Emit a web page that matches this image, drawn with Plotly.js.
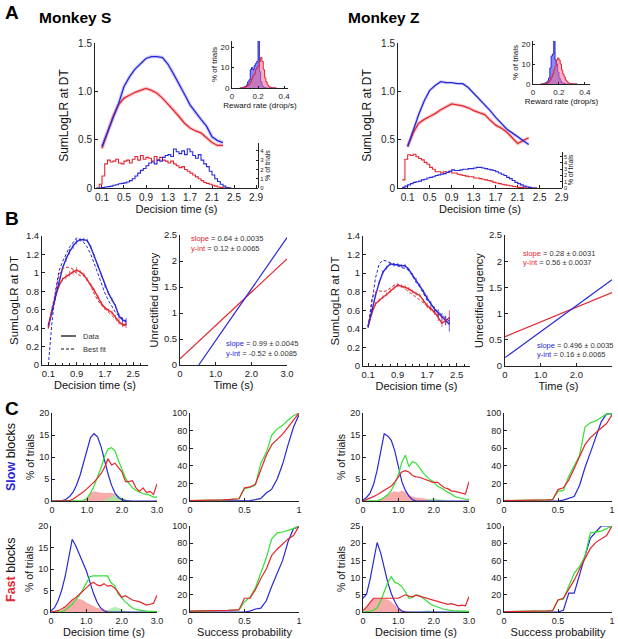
<!DOCTYPE html>
<html><head><meta charset="utf-8">
<script src="https://cdn.plot.ly/plotly-3.0.1.min.js"></script>
<style>body{margin:0;background:#fff}#chart{width:618px;height:639px}</style>
</head><body><div id="chart"></div>
<script>
// ---------------- DATA ----------------
// Panel A / B: SumLogLR at decision time (DT in s)
const dtGrid = [0.1,0.2,0.3,0.4,0.5,0.6,0.7,0.8,0.9,1.0,1.1,1.2,1.3,1.4,1.5,1.6,1.7,1.8,1.9,2.0,2.1,2.2,2.3];
const sBlueLLR = [0.43,0.58,0.72,0.87,1.05,1.15,1.23,1.29,1.34,1.36,1.36,1.35,1.28,1.18,1.08,0.97,0.86,0.78,0.71,0.64,0.53,0.49,0.47];
const sRedLLR  = [0.41,0.58,0.74,0.86,0.93,0.96,0.99,1.01,1.03,1.01,0.98,0.93,0.87,0.81,0.74,0.67,0.62,0.59,0.57,0.52,0.47,0.44,0.44];
const zBlueLLR = [0.43,0.60,0.76,0.90,1.01,1.06,1.10,1.09,1.09,1.08,1.08,1.04,0.98,0.93,0.87,0.80,0.73,0.67,0.61,0.57,0.53,0.49,0.45];
const zRedLLR  = [0.43,0.57,0.67,0.71,0.74,0.77,0.81,0.84,0.87,0.86,0.85,0.83,0.80,0.78,0.76,0.70,0.65,0.62,0.58,0.52,0.46,0.49,0.52];
const sLLRErr  = [0.02,0.02,0.02,0.02,0.02,0.03,0.03,0.03,0.03,0.02,0.02,0.02,0.02,0.02,0.02,0.02,0.02,0.02,0.02,0.02,0.03,0.03,0.04];
const zLLRErr  = [0.02,0.02,0.02,0.02,0.02,0.02,0.02,0.02,0.02,0.02,0.02,0.02,0.02,0.02,0.02,0.02,0.03,0.03,0.03,0.04,0.04,0.05,0.08];
// Panel B best fits
const sBlueFit = [0.00,0.45,0.80,1.02,1.12,1.20,1.28,1.33,1.38,1.36,1.33,1.28,1.20,1.10,0.99,0.88,0.78,0.70,0.63,0.57,0.53,0.50,0.48];
const sRedFit  = [0.40,0.62,0.78,0.98,1.04,1.06,1.06,1.04,0.99,0.97,0.97,0.92,0.86,0.77,0.70,0.65,0.61,0.57,0.53,0.50,0.46,0.43,0.43];
const zBlueFit = [0.42,0.70,0.95,1.10,1.14,1.13,1.11,1.10,1.08,1.06,1.05,1.03,0.97,0.90,0.85,0.78,0.71,0.67,0.62,0.58,0.55,0.51,0.48];
const zRedFit  = [0.42,0.72,0.80,0.81,0.80,0.81,0.84,0.87,0.88,0.86,0.83,0.80,0.77,0.74,0.71,0.68,0.64,0.60,0.57,0.55,0.52,0.49,0.47];

// Panel A: DT histograms (% of trials), bins of 0.05 s
const histBins = [0,0.05,0.1,0.15,0.2,0.25,0.3,0.35,0.4,0.45,0.5,0.55,0.6,0.65,0.7,0.75,0.8,0.85,0.9,0.95,1.0,1.05,1.1,1.15,1.2,1.25,1.3,1.35,1.4,1.45,1.5,1.55,1.6,1.65,1.7,1.75,1.8,1.85,1.9,1.95,2.0,2.05,2.1,2.15,2.2,2.25,2.3,2.35,2.4,2.45];
const sRedHist  = [0,0.4,1.3,2.6,3.0,2.8,2.9,3.1,2.7,2.6,2.9,3.0,2.7,3.1,3.4,3.0,3.5,3.1,3.3,3.2,2.9,3.4,3.0,3.3,3.0,2.9,2.7,2.9,2.6,2.4,2.2,2.3,2.0,1.8,1.6,1.4,1.2,1.0,0.8,0.6,0.5,0.4,0.3,0.2,0.1,0.05,0,0,0,0];
const sBlueHist = [0,0,0.05,0.1,0.15,0.2,0.3,0.35,0.45,0.5,0.55,0.65,0.8,1.0,1.3,1.6,1.9,2.1,2.4,2.7,2.8,2.6,3.0,2.9,3.3,3.5,3.6,3.4,4.2,3.9,3.7,4.0,3.6,4.2,3.9,3.5,3.2,3.6,3.0,2.6,2.3,1.8,1.4,1.0,0.7,0.4,0.2,0.05,0,0];
const zRedHist  = [1.3,4.6,5.3,5.2,5.4,5.0,4.7,4.5,4.1,3.8,3.3,3.0,2.6,2.6,2.4,2.6,2.5,2.6,2.4,2.4,2.2,2.1,2.0,1.9,1.8,1.8,1.6,1.6,1.5,1.4,1.3,1.2,1.1,0.9,0.8,0.7,0.6,0.5,0.45,0.35,0.25,0.2,0.1,0.1,0.05,0,0,0,0,0];
const zBlueHist = [0.1,0.3,0.5,0.7,0.9,1.0,1.1,1.3,1.4,1.6,1.7,1.8,2.0,2.1,2.2,2.3,2.5,2.7,2.9,2.8,2.8,2.9,3.0,3.0,3.1,3.1,3.2,3.3,3.3,3.2,3.1,3.0,2.9,2.8,2.6,2.4,2.2,2.0,1.7,1.5,1.2,0.9,0.7,0.5,0.3,0.2,0.1,0,0,0];

// Panel A insets: reward rate histograms (% of trials)
const rrBins = [0.06,0.07,0.08,0.09,0.10,0.11,0.12,0.13,0.14,0.15,0.16,0.17,0.18,0.19,0.20,0.21,0.22,0.23,0.24,0.25,0.26,0.27,0.28,0.29,0.30,0.31,0.32,0.33,0.34];
const sBlueRR = [0,0,0.3,0.5,0.8,1.5,3,4,9,10,9,11,12,13,23,8,3,1,0.5,0.2,0,0,0,0,0,0,0,0,0];
const sRedRR  = [0,0,0.2,0.3,0.5,0.8,1.2,2,3,4.5,6,7,9,10,11,13,15,13,9,5,3,1.5,0.8,0.4,0.2,0.1,0,0,0];
const zBlueRR = [0,0,0.2,0.5,0.8,1.5,3,8,14,15,23,12,10,6,3,1.5,0.8,0.4,0.2,0,0,0,0,0,0,0,0,0,0];
const zRedRR  = [0,0,0,0.1,0.2,0.5,1,2,3.5,5,7,9,12,13,12,10,7,5,3.5,2,1.2,0.6,0.3,0.1,0,0,0,0,0];

// Panel B: unrectified urgency lines (time s, urgency)
const sRedUrgT = [0,3.0],     sRedUrg = [0.12,2.04];
const sBlueUrgT = [0.525,3.0], sBlueUrg = [0,2.45];
const zRedUrgT = [0,3.0],     zRedUrg = [0.56,1.40];
const zBlueUrgT = [0,3.0],    zBlueUrg = [0.16,1.648];

// Panel C: decision time distributions (% of trials)
const dtC = [0,0.1,0.2,0.3,0.4,0.5,0.6,0.7,0.8,0.9,1.0,1.1,1.2,1.3,1.4,1.5,1.6,1.7,1.8,1.9,2.0,2.1,2.2,2.3,2.4,2.5,2.6,2.7,2.8,2.9,3.0];
const slowS_blue  = [0,0,0,0.1,0.4,1.0,2.0,3.6,5.8,8.6,11.8,14.4,15.3,14.6,12.4,9.2,6.2,3.6,1.8,0.8,0.3,0.1,0,0,0,0,0,0,0,0,0];
const slowS_green = [0,0,0,0,0,0,0,0,0,0.1,0.6,1.8,3.4,5.4,7.5,10.0,11.8,12.1,11.4,9.2,7.0,5.2,4.0,3.0,2.4,2.0,1.7,1.5,1.3,0.9,0.9];
const slowS_red   = [0,0,0,0,0,0.1,0.4,0.9,1.5,2.1,2.8,3.5,4.3,5.2,6.2,7.6,9.6,8.2,8.6,7.6,6.6,4.4,4.4,4.6,3.0,2.2,3.0,1.9,2.2,1.5,3.9];
const slowS_pink  = [0,0,0,0,0,0,0,0,0,0,0.8,1.8,2.2,2.0,1.9,1.8,1.8,1.9,1.6,1.0,0.5,0.2,0,0,0,0,0,0,0,0,0];
const slowS_gfill = [0,0,0,0,0,0,0,0,0,0,0,0,0,0,0,0.2,0.6,1.0,1.4,1.2,0.8,0.4,0.1,0,0,0,0,0,0,0,0];
const slowZ_blue  = [0.2,0.8,1.8,3.8,7.0,11.5,15.3,14.8,13.8,11.4,8.0,4.4,2.4,1.1,0.3,0,0,0,0,0,0,0,0,0,0,0,0,0,0,0,0];
const slowZ_green = [0,0,0,0,0.1,0.3,0.8,1.4,2.4,4.0,6.0,8.8,10.4,7.8,9.0,8.6,7.6,6.4,5.6,4.8,4.4,3.4,3.0,2.4,2.0,1.6,1.0,0.8,0.6,0.4,0.4];
const slowZ_red   = [0,0.3,0.6,1.0,1.4,1.9,2.3,2.8,3.4,4.3,5.4,6.6,6.9,6.6,5.8,5.5,5.4,5.1,4.9,4.6,4.2,4.3,3.6,3.0,2.8,2.3,2.2,2.0,1.8,1.6,4.4];
const slowZ_pink  = [0,0,0,0,0,0.4,1.0,1.6,2.0,2.2,2.0,2.4,2.0,1.4,1.0,0.8,0.7,0.6,0.5,0.5,0.3,0.2,0,0,0,0,0,0,0,0,0];
const slowZ_gfill = [0,0,0,0,0,0,0,0,0,0,0,0,0,0,0,0,0,0,0.3,0.5,0.6,0.5,0.4,0.2,0,0,0,0,0,0,0];
const fastS_blue  = [0.3,1.0,2.6,5.0,8.2,12.2,16.9,15.4,13.6,11.6,9.6,7.0,4.4,2.4,1.0,0.3,0,0,0,0,0,0,0,0,0,0,0,0,0,0,0];
const fastS_green = [0,0,0,0.1,0.4,1.0,1.8,2.8,3.8,5.2,6.8,8.2,8.4,8.4,8.4,8.3,8.4,6.8,6.2,4.2,3.2,2.4,1.7,1.0,0.6,0.4,0.3,0.2,0.2,0.1,0.1];
const fastS_red   = [0,0.1,0.3,0.7,1.2,2.0,2.8,3.3,4.0,4.8,5.6,6.4,6.9,6.3,6.1,6.6,6.0,6.2,5.6,4.6,3.4,3.8,3.2,2.8,2.6,2.4,2.0,1.6,1.8,2.0,3.9];
const fastS_pink  = [0,0,0,0.4,1.0,1.8,2.6,3.0,3.0,2.8,2.2,1.7,1.4,1.0,0.8,0.6,0.4,0.2,0,0,0,0,0,0,0,0,0,0,0,0,0];
const fastS_gfill = [0,0,0,0,0,0,0,0,0,0,0,0,0,0,0,0,0.4,0.9,1.2,1.0,0.6,0.3,0.1,0,0,0,0,0,0,0,0];
const fastZ_blue  = [4.0,5.2,9.5,15.0,20.2,17.2,13.0,8.6,5.4,3.0,1.2,0.3,0,0,0,0,0,0,0,0,0,0,0,0,0,0,0,0,0,0,0];
const fastZ_green = [0,0,0.2,0.5,1.2,3.2,6.2,8.6,10.3,8.6,8.2,7.4,5.8,4.0,4.2,5.0,4.8,4.0,3.0,2.4,1.8,1.4,1.1,0.8,0.6,0.4,0.3,0.3,0.2,0.2,0.2];
const fastZ_red   = [0.5,1.4,2.8,4.0,4.0,4.0,3.9,3.8,3.8,3.9,4.0,4.5,5.0,4.6,4.4,4.9,4.6,4.4,4.0,3.8,3.6,3.2,2.8,2.6,2.2,2.4,2.0,1.8,2.0,1.8,4.5];
const fastZ_pink  = [0.5,1.4,2.8,3.8,3.9,3.9,3.8,3.6,3.0,2.0,1.0,0.5,0.3,0.1,0,0,0,0,0,0,0,0,0,0,0,0,0,0,0,0,0];
const fastZ_gfill = [0,0,0,0,0,0,0,0,0,0,0,0,0,0,0,0,0,0.3,0.5,0.4,0.2,0,0,0,0,0,0,0,0,0,0];

// Panel C: cumulative % vs success probability
const probC = [0,0.05,0.1,0.15,0.2,0.25,0.3,0.35,0.4,0.45,0.5,0.55,0.6,0.65,0.7,0.75,0.8,0.85,0.9,0.95,1.0];
const slowS_redP   = [0.5,0.5,0.5,0.6,0.7,0.9,1.2,1.6,2.0,2.5,15,16,19,35,52,64,70,76,84,92,100];
const slowS_greenP = [0.5,0.5,0.5,0.6,0.7,0.9,1.2,1.6,2.0,2.5,14,15.5,18,43,55,75,82,86,92,97,100];
const slowS_blueP  = [0,0,0,0,0,0,0,0,0,0,0,0.5,1.5,3,9,13.5,25,42,64,84,98];
const slowZ_redP   = [0.5,0.5,0.5,0.5,0.6,0.7,0.8,1.0,1.2,1.5,13,15,24,37,50,64,72,78,83,88,98];
const slowZ_greenP = [0.5,0.5,0.5,0.5,0.6,0.7,0.8,1.0,1.2,1.5,11,12,28,40,52,84,89,91,95,99,99];
const slowZ_blueP  = [0,0,0,0,0,0,0,0,0,0,0,1,3,5,18,38,55,72,90,99,99];
const fastS_redP   = [1,1,1,1,1.2,1.4,1.6,1.8,2.2,2.7,16,16,26,39,50,66,73,79,85,89,100];
const fastS_greenP = [1,1,1,1,1.2,1.4,1.6,1.8,2.2,2.5,12,17,28,45,63,85,92,93,95,97,100];
const fastS_blueP  = [0,0,0,0,0,0,0,0,0,0,0,1,3.5,4.5,13,30,45,60,82,97,99];
const fastZ_redP   = [0.5,0.5,0.5,0.5,0.6,0.7,0.8,1.0,1.2,1.5,14,16,26,37,50,63,74,81,85,89,100];
const fastZ_greenP = [0.5,0.5,0.5,0.5,0.6,0.7,0.8,1.0,1.2,1.5,14,15,30,45,53,65,92,93,94,97,100];
const fastZ_blueP  = [0,0,0,0,0,0,0,0,0,0,0,2,22,22,45,65,86,93,100,100,100];

// Tick labels
const aTickVals = [0.1,0.5,0.9,1.3,1.7,2.1,2.5,2.9];
const aTickText = ['0.1','0.5','0.9','1.3','1.7','2.1','2.5','2.9'];
const bTickVals = [0.1,0.9,1.7,2.5];
const bTickText = ['0.1','0.9','1.7','2.5'];

// ---------------- STYLE ----------------
const F = 'Arial, "Liberation Sans", sans-serif';
const W = 618, H = 639;
const BLUE = 'rgb(40,40,215)', RED = 'rgb(228,38,48)', GREEN = 'rgb(50,225,50)', INK = '#222';
const dx = (a,b) => [a/W, b/W];
const dy = (t,b) => [1-b/H, 1-t/H];

const traces = [];
function add(t){ traces.push(Object.assign({type:'scatter',mode:'lines',showlegend:false,hoverinfo:'skip'}, t)); }

// ---- A: Monkey S
add({x:histBins,y:sRedHist,xaxis:'x',yaxis:'y2',line:{color:RED,width:1.1,shape:'hv'}});
add({x:histBins,y:sBlueHist,xaxis:'x',yaxis:'y2',line:{color:BLUE,width:1.1,shape:'hv'}});
add({x:dtGrid,y:sRedLLR,xaxis:'x',yaxis:'y',line:{color:'rgba(240,120,130,0.4)',width:3.5}});
add({x:dtGrid,y:sBlueLLR,xaxis:'x',yaxis:'y',line:{color:'rgba(120,120,240,0.35)',width:3.5}});
add({x:dtGrid,y:sRedLLR,xaxis:'x',yaxis:'y',line:{color:RED,width:1.3}});
add({x:dtGrid,y:sBlueLLR,xaxis:'x',yaxis:'y',line:{color:BLUE,width:1.3}});
add({x:rrBins,y:sBlueRR,xaxis:'x3',yaxis:'y3',fill:'tozeroy',fillcolor:'rgba(70,70,245,0.65)',line:{color:BLUE,width:1,shape:'hv'}});
add({x:rrBins,y:sRedRR,xaxis:'x3',yaxis:'y3',fill:'tozeroy',fillcolor:'rgba(240,110,150,0.55)',line:{color:RED,width:1,shape:'hv'}});
// ---- A: Monkey Z
add({x:histBins,y:zRedHist,xaxis:'x4',yaxis:'y5',line:{color:RED,width:1.1,shape:'hv'}});
add({x:histBins,y:zBlueHist,xaxis:'x4',yaxis:'y5',line:{color:BLUE,width:1.1,shape:'hv'}});
add({x:dtGrid,y:zRedLLR,xaxis:'x4',yaxis:'y4',line:{color:'rgba(240,120,130,0.4)',width:3.5}});
add({x:dtGrid,y:zBlueLLR,xaxis:'x4',yaxis:'y4',line:{color:'rgba(120,120,240,0.3)',width:3}});
add({x:dtGrid,y:zRedLLR,xaxis:'x4',yaxis:'y4',line:{color:RED,width:1.3}});
add({x:dtGrid,y:zBlueLLR,xaxis:'x4',yaxis:'y4',line:{color:BLUE,width:1.3}});
add({x:rrBins,y:zBlueRR,xaxis:'x6',yaxis:'y6',fill:'tozeroy',fillcolor:'rgba(70,70,245,0.65)',line:{color:BLUE,width:1,shape:'hv'}});
add({x:rrBins,y:zRedRR,xaxis:'x6',yaxis:'y6',fill:'tozeroy',fillcolor:'rgba(240,110,150,0.55)',line:{color:RED,width:1,shape:'hv'}});

// ---- B
function bData(y, err, col, xa, ya){
  add({x:dtGrid,y:y,xaxis:xa,yaxis:ya,line:{color:col,width:1.4},
       error_y:{type:'data',array:err,visible:true,color:col,thickness:0.7,width:0}});
}
bData(sRedLLR, sLLRErr, RED, 'x7','y7');
bData(sBlueLLR, sLLRErr, BLUE, 'x7','y7');
add({x:dtGrid,y:sRedFit,xaxis:'x7',yaxis:'y7',line:{color:RED,width:1,dash:'3px,2px'}});
add({x:dtGrid,y:sBlueFit,xaxis:'x7',yaxis:'y7',line:{color:BLUE,width:1,dash:'3px,2px'}});
add({x:sRedUrgT,y:sRedUrg,xaxis:'x8',yaxis:'y8',line:{color:RED,width:1.2}});
add({x:sBlueUrgT,y:sBlueUrg,xaxis:'x8',yaxis:'y8',line:{color:BLUE,width:1.2}});
bData(zRedLLR, zLLRErr, RED, 'x9','y9');
bData(zBlueLLR, zLLRErr, BLUE, 'x9','y9');
add({x:dtGrid,y:zRedFit,xaxis:'x9',yaxis:'y9',line:{color:RED,width:1,dash:'3px,2px'}});
add({x:dtGrid,y:zBlueFit,xaxis:'x9',yaxis:'y9',line:{color:BLUE,width:1,dash:'3px,2px'}});
add({x:zRedUrgT,y:zRedUrg,xaxis:'x10',yaxis:'y10',line:{color:RED,width:1.2}});
add({x:zBlueUrgT,y:zBlueUrg,xaxis:'x10',yaxis:'y10',line:{color:BLUE,width:1.2}});

// ---- C
function cDT(xa, ya, pink, gfill, blue, green, red){
  add({x:dtC,y:pink,xaxis:xa,yaxis:ya,fill:'tozeroy',fillcolor:'rgba(245,150,150,0.8)',line:{width:0,color:'rgba(0,0,0,0)'}});
  add({x:dtC,y:gfill,xaxis:xa,yaxis:ya,fill:'tozeroy',fillcolor:'rgba(160,235,160,0.8)',line:{width:0,color:'rgba(0,0,0,0)'}});
  add({x:dtC,y:blue,xaxis:xa,yaxis:ya,line:{color:BLUE,width:1.2}});
  add({x:dtC,y:green,xaxis:xa,yaxis:ya,line:{color:GREEN,width:1.2}});
  add({x:dtC,y:red,xaxis:xa,yaxis:ya,line:{color:RED,width:1.2}});
}
function cP(xa, ya, blue, green, red){
  add({x:probC,y:blue,xaxis:xa,yaxis:ya,line:{color:BLUE,width:1.2}});
  add({x:probC,y:green,xaxis:xa,yaxis:ya,line:{color:GREEN,width:1.2}});
  add({x:probC,y:red,xaxis:xa,yaxis:ya,line:{color:RED,width:1.2}});
}
cDT('x11','y11',slowS_pink,slowS_gfill,slowS_blue,slowS_green,slowS_red);
cP('x12','y12',slowS_blueP,slowS_greenP,slowS_redP);
cDT('x13','y13',slowZ_pink,slowZ_gfill,slowZ_blue,slowZ_green,slowZ_red);
cP('x14','y14',slowZ_blueP,slowZ_greenP,slowZ_redP);
cDT('x15','y15',fastS_pink,fastS_gfill,fastS_blue,fastS_green,fastS_red);
cP('x16','y16',fastS_blueP,fastS_greenP,fastS_redP);
cDT('x17','y17',fastZ_pink,fastZ_gfill,fastZ_blue,fastZ_green,fastZ_red);
cP('x18','y18',fastZ_blueP,fastZ_greenP,fastZ_redP);

// ---------------- AXES ----------------
function axis(domain, range, anchor, o){
  return Object.assign({domain:domain, range:range, anchor:anchor, showline:true, linecolor:INK, linewidth:1,
    ticks:'inside', ticklen:3, tickcolor:INK, showgrid:false, zeroline:false, fixedrange:true,
    tickfont:{family:F,size:9,color:INK}}, o||{});
}
function ttl(text, size, standoff){ return {text:text, font:{family:F,size:size,color:'#111'}, standoff:standoff}; }

const layout = {
  width:W, height:H, margin:{l:0,r:0,t:0,b:0}, paper_bgcolor:'#fff', plot_bgcolor:'rgba(0,0,0,0)',
  font:{family:F,color:INK}, showlegend:false,
  // A left
  xaxis: axis(dx(95,258),[-0.027,2.936],'y',{tickvals:aTickVals,ticktext:aTickText,tickfont:{family:F,size:10,color:INK},title:ttl('Decision time (s)',11,3)}),
  yaxis: axis(dy(43,188),[0,1.5],'x',{tickvals:[0,0.5,1,1.5],ticktext:['0','0.5','1.0','1.5'],tickfont:{family:F,size:10,color:INK},title:ttl('SumLogLR at DT',12,6)}),
  yaxis2: axis(dy(143,188),[0,4.85],'x',{side:'right',tickvals:[0,1,2,3,4],ticklen:2,tickfont:{family:F,size:6,color:INK},title:ttl('% of trials',7,1)}),
  xaxis3: axis(dx(232,288),[0,0.43],'y3',{tickvals:[0,0.2,0.4],ticktext:['0','0.2','0.4'],ticklen:2,tickfont:{family:F,size:8,color:INK},title:ttl('Reward rate (drop/s)',8,0)}),
  yaxis3: axis(dy(41,88),[0,23],'x3',{tickvals:[0,10,20],ticklen:2,tickfont:{family:F,size:8,color:INK},title:ttl('% of trials',8,1)}),
  // A right
  xaxis4: axis(dx(398,562),[-0.076,2.905],'y4',{tickvals:aTickVals,ticktext:aTickText,tickfont:{family:F,size:10,color:INK},title:ttl('Decision time (s)',11,3)}),
  yaxis4: axis(dy(43,188),[0,1.5],'x4',{tickvals:[0,0.5,1,1.5],ticktext:['0','0.5','1.0','1.5'],tickfont:{family:F,size:10,color:INK},title:ttl('SumLogLR at DT',12,6)}),
  yaxis5: axis(dy(152,188),[0,5.75],'x4',{side:'right',tickvals:[0,1,2,3,4,5],ticklen:2,tickfont:{family:F,size:5.5,color:INK},title:ttl('% of trials',7,1)}),
  xaxis6: axis(dx(533,590),[0,0.44],'y6',{tickvals:[0,0.2,0.4],ticktext:['0','0.2','0.4'],ticklen:2,tickfont:{family:F,size:8,color:INK},title:ttl('Reward rate (drop/s)',8,0)}),
  yaxis6: axis(dy(41,84),[0,21.5],'x6',{tickvals:[0,10,20],ticklen:2,tickfont:{family:F,size:8,color:INK},title:ttl('% of trials',8,1)}),
  // B
  xaxis7: axis(dx(42,148),[-0.08,2.92],'y7',{tickvals:bTickVals,ticktext:bTickText,tickfont:{family:F,size:9.5,color:INK},minor:{tick0:0.1,dtick:0.2,ticks:'inside',ticklen:2,tickcolor:INK},title:ttl('Decision time (s)',11,2)}),
  yaxis7: axis(dy(236,365),[0,1.4],'x7',{tickvals:[0,0.2,0.4,0.6,0.8,1,1.2,1.4],ticktext:['0','0.2','0.4','0.6','0.8','1','1.2','1.4'],tickfont:{family:F,size:9.5,color:INK},title:ttl('SumLogLR at DT',11.5,4)}),
  xaxis8: axis(dx(180,287),[0,3],'y8',{tickvals:[0,1,2,3],ticktext:['0','1.0','2.0','3.0'],tickfont:{family:F,size:9.5,color:INK},title:ttl('Time (s)',11,2)}),
  yaxis8: axis(dy(235,365),[0,2.5],'x8',{tickvals:[0,0.5,1,1.5,2,2.5],ticktext:['0','0.5','1','1.5','2','2.5'],tickfont:{family:F,size:9.5,color:INK},title:ttl('Unrectified urgency',11,3)}),
  xaxis9: axis(dx(363,470),[-0.04,2.86],'y9',{tickvals:bTickVals,ticktext:bTickText,tickfont:{family:F,size:9.5,color:INK},minor:{tick0:0.1,dtick:0.2,ticks:'inside',ticklen:2,tickcolor:INK},title:ttl('Decision time (s)',11,2)}),
  yaxis9: axis(dy(236,366),[0,1.4],'x9',{tickvals:[0,0.2,0.4,0.6,0.8,1,1.2,1.4],ticktext:['0','0.2','0.4','0.6','0.8','1','1.2','1.4'],tickfont:{family:F,size:9.5,color:INK},title:ttl('SumLogLR at DT',11.5,4)}),
  xaxis10: axis(dx(505,612),[0,3],'y10',{tickvals:[0,1,2,3],ticktext:['0','1.0','2.0','3.0'],tickfont:{family:F,size:9.5,color:INK},title:ttl('Time (s)',11,2)}),
  yaxis10: axis(dy(235,366),[0,2.5],'x10',{tickvals:[0,0.5,1,1.5,2,2.5],ticktext:['0','0.5','1','1.5','2','2.5'],tickfont:{family:F,size:9.5,color:INK},title:ttl('Unrectified urgency',11,3)}),
};
// C axes
const dtTicks = {tickvals:[0,1,2,3],ticktext:['0','1.0','2.0','3.0']};
const pTicks = {tickvals:[0,0.5,1],ticktext:['0','0.5','1']};
layout.xaxis11 = axis(dx(52,157),[0,3],'y11',dtTicks);
layout.yaxis11 = axis(dy(413,501),[0,20],'x11',{tickvals:[0,5,10,15,20],title:ttl('% of trials',10.5,2)});
layout.xaxis12 = axis(dx(190,299),[0,1],'y12',pTicks);
layout.yaxis12 = axis(dy(413,501),[0,100],'x12',{tickvals:[0,20,40,60,80,100]});
layout.xaxis13 = axis(dx(363,469),[0,3],'y13',dtTicks);
layout.yaxis13 = axis(dy(413,501),[0,20],'x13',{tickvals:[0,5,10,15,20],title:ttl('% of trials',10.5,2)});
layout.xaxis14 = axis(dx(504,612),[0,1],'y14',pTicks);
layout.yaxis14 = axis(dy(413,501),[0,100],'x14',{tickvals:[0,20,40,60,80,100]});
layout.xaxis15 = axis(dx(51,157),[0,3],'y15',Object.assign({title:ttl('Decision time (s)',11,2)},dtTicks));
layout.yaxis15 = axis(dy(526,612),[0,20],'x15',{tickvals:[0,5,10,15,20],title:ttl('% of trials',10.5,2)});
layout.xaxis16 = axis(dx(190,299),[0,1],'y16',Object.assign({title:ttl('Success probability',11,2)},pTicks));
layout.yaxis16 = axis(dy(526,612),[0,100],'x16',{tickvals:[0,20,40,60,80,100]});
layout.xaxis17 = axis(dx(363,469),[0,3],'y17',Object.assign({title:ttl('Decision time (s)',11,2)},dtTicks));
layout.yaxis17 = axis(dy(526,612),[0,25],'x17',{tickvals:[0,5,10,15,20,25],title:ttl('% of trials',10.5,2)});
layout.xaxis18 = axis(dx(504,612),[0,1],'y18',Object.assign({title:ttl('Success probability',11,2)},pTicks));
layout.yaxis18 = axis(dy(526,612),[0,100],'x18',{tickvals:[0,20,40,60,80,100]});

// ---------------- ANNOTATIONS ----------------
function note(px, py, text, o){
  return Object.assign({xref:'paper',yref:'paper',x:px/W,y:1-py/H,text:text,showarrow:false,
    xanchor:'left',yanchor:'middle',font:{family:F,size:7.5,color:'#333'}}, o||{});
}
layout.annotations = [
  note(3,13,'<b>A</b>',{font:{family:F,size:19,color:'#000'}}),
  note(37,18,'<b>Monkey S</b>',{font:{family:F,size:15.5,color:'#000'}}),
  note(346,18,'<b>Monkey Z</b>',{font:{family:F,size:15.5,color:'#000'}}),
  note(3,218,'<b>B</b>',{font:{family:F,size:19,color:'#000'}}),
  note(3,408,'<b>C</b>',{font:{family:F,size:19,color:'#000'}}),
  note(11,457,'<b><span style="color:'+BLUE+'">Slow</span></b> blocks',{xanchor:'center',textangle:-90,font:{family:F,size:12.5,color:'#111'}}),
  note(11,570,'<b><span style="color:'+RED+'">Fast</span></b> blocks',{xanchor:'center',textangle:-90,font:{family:F,size:12.5,color:'#111'}}),
  note(189,238,'<span style="color:'+RED+'">slope</span> = 0.64 ± 0.0035'),
  note(189,248,'<span style="color:'+RED+'">y-int</span> = 0.12 ± 0.0065'),
  note(224,343,'<span style="color:'+BLUE+'">slope</span> = 0.99 ± 0.0045'),
  note(224,353,'<span style="color:'+BLUE+'">y-int</span> = -0.52 ± 0.0085'),
  note(521,254,'<span style="color:'+RED+'">slope</span> = 0.28 ± 0.0031'),
  note(521,263,'<span style="color:'+RED+'">y-int</span> = 0.56 ± 0.0037'),
  note(535,345,'<span style="color:'+BLUE+'">slope</span> = 0.496 ± 0.0035'),
  note(535,354,'<span style="color:'+BLUE+'">y-int</span> = 0.16 ± 0.0065'),
  // B-left key
  note(81,336,'Data',{font:{family:F,size:7.5,color:'#333'}}),
  note(81,349,'Best fit',{font:{family:F,size:7.5,color:'#333'}}),
];
// key sample lines (legend decoration)
layout.shapes = [
  {type:'line',xref:'paper',yref:'paper',x0:61/W,x1:76/W,y0:1-336/H,y1:1-336/H,line:{color:'#111',width:1.3}},
  {type:'line',xref:'paper',yref:'paper',x0:61/W,x1:76/W,y0:1-349/H,y1:1-349/H,line:{color:'#111',width:1,dash:'3px,2px'}},
];

Plotly.newPlot('chart', traces, layout, {displayModeBar:false, staticPlot:true});
</script></body></html>
